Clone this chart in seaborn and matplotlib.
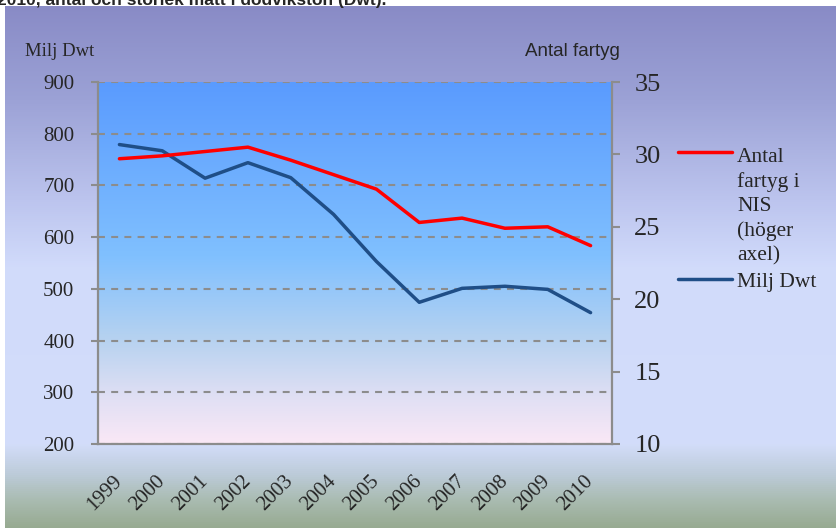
import numpy as np
import pandas as pd
import matplotlib
matplotlib.use("Agg")
import matplotlib.pyplot as plt
import seaborn as sns
from matplotlib import font_manager
from matplotlib.colors import LinearSegmentedColormap
from matplotlib.legend_handler import HandlerLine2D

# ---------------- data ----------------
years = ["1999", "2000", "2001", "2002", "2003", "2004",
         "2005", "2006", "2007", "2008", "2009", "2010"]
milj_dwt = [779, 767, 714, 744, 715, 644, 553, 474, 501, 505, 499, 454]
antal_fartyg = [29.7, 29.9, 30.2, 30.5, 29.6, 28.6, 27.6, 25.3, 25.6, 24.9, 25.0, 23.7]
left_ticks = [200, 300, 400, 500, 600, 700, 800, 900]
right_ticks = [10, 15, 20, 25, 30, 35]

label_red = "Antal\nfartyg i\nNIS\n(höger\naxel)"
label_blue = "Milj Dwt"
title_text = "2010, antal och storlek mätt i dödvikston (Dwt)."

df = pd.DataFrame({"pos": np.arange(len(years)), "year": years,
                   "dwt": milj_dwt, "antal": antal_fartyg})


def has_font(name):
    try:
        font_manager.findfont(font_manager.FontProperties(family=name),
                              fallback_to_default=False)
        return True
    except Exception:
        return False


narrow_ok = has_font("Liberation Sans Narrow")
narrow_family = ["Liberation Sans Narrow", "DejaVu Sans"] if narrow_ok else ["Liberation Sans", "DejaVu Sans"]

sns.set_style("white")
plt.rcParams["font.family"] = ["Liberation Serif", "DejaVu Sans"]
plt.rcParams["lines.scale_dashes"] = False

W, H = 836, 528
fig = plt.figure(figsize=(W / 100, H / 100), dpi=100)
fig.patch.set_facecolor("white")

# figure background gradient
bg = fig.add_axes([5 / W, 0, 1 - 5 / W, 1 - 6 / H], zorder=-5)
bg.axis("off")
bg_cmap = LinearSegmentedColormap.from_list("bg", [
    (0.00, "#898bc6"), (0.18, "#9ca2d6"), (0.37, "#bcc4ee"), (0.50, "#d1dbfb"),
    (0.84, "#d3ddfa"), (0.90, "#bccbd8"), (0.95, "#a9bbb0"), (1.00, "#97aa91")])
bg.imshow(np.linspace(0, 1, 512).reshape(-1, 1), aspect="auto", cmap=bg_cmap,
          extent=[0, 1, 0, 1])
bg.set_xlim(0, 1)
bg.set_ylim(0, 1)

# main axes
ax = fig.add_axes([98 / W, 1 - 444 / H, (612 - 98) / W, (444 - 82) / H])
ax.patch.set_alpha(0)
plot_cmap = LinearSegmentedColormap.from_list("pl", [
    (0.00, "#5a9bfe"), (0.48, "#80c0ff"), (0.71, "#b6d2f0"), (0.88, "#e2e0f4"),
    (1.00, "#fae8f6")])
ax.imshow(np.linspace(0, 1, 512).reshape(-1, 1), aspect="auto", cmap=plot_cmap,
          extent=[-0.5, len(years) - 0.5, 200, 900], zorder=0)

grey = "#8c8c8c"
sns.lineplot(data=df, x="pos", y="dwt", ax=ax, color="#1f4e87", lw=2.5,
             legend=False, zorder=3)
ax.set_xlim(-0.5, len(years) - 0.5)
ax.set_ylim(200, 900)
ax.set_yticks(left_ticks)
ax.set_yticklabels([str(v) for v in left_ticks])
ax.set_xticks(np.arange(-0.5, len(years), 1.0))
ax.set_xticklabels([])
ax.set_xticks(np.arange(len(years)), minor=True)
ax.set_xticklabels(years, minor=True, rotation=45, ha="right", va="center",
                   rotation_mode="anchor", fontsize=15)
ax.tick_params(axis="x", which="major", length=4, width=1.5, color=grey, direction="out")
ax.tick_params(axis="x", which="minor", length=0, pad=25)
ax.tick_params(axis="y", which="major", length=5, width=1.5, color=grey,
               direction="out", labelsize=15, pad=12, left=True)
ax.yaxis.grid(True, color=grey, lw=1.5, ls=(0, (5, 4.5)), zorder=1)
ax.xaxis.grid(False)
ax.set_axisbelow(False)
for s in ["top", "right"]:
    ax.spines[s].set_visible(False)
for s in ["left", "bottom"]:
    ax.spines[s].set_color(grey)
    ax.spines[s].set_linewidth(1.6)
ax.set_xlabel("")
ax.set_ylabel("")

ax2 = ax.twinx()
sns.lineplot(data=df, x="pos", y="antal", ax=ax2, color="#ff0000", lw=2.5,
             legend=False, zorder=3)
ax2.set_ylim(10, 35)
ax2.set_yticks(right_ticks)
ax2.set_yticklabels([str(v) for v in right_ticks])
ax2.tick_params(axis="y", length=6, width=1.5, color=grey, direction="out",
                labelsize=19, pad=10, right=True)
for s in ["top", "left", "bottom"]:
    ax2.spines[s].set_visible(False)
ax2.spines["right"].set_color(grey)
ax2.spines["right"].set_linewidth(1.6)
ax2.set_ylabel("")
ax2.set_xlabel("")
ax2.grid(False)


class UpHandler(HandlerLine2D):
    def __init__(self, shift, **kw):
        super().__init__(**kw)
        self.shift = shift

    def create_artists(self, legend, orig_handle, xdescent, ydescent, width,
                       height, fontsize, trans):
        return super().create_artists(legend, orig_handle, xdescent,
                                      ydescent - self.shift, width, height,
                                      fontsize, trans)


leg_size = 15.5
line_sp = 1.35
red_line = ax2.lines[0]
blue_line = ax.lines[0]
leg = fig.legend([red_line, blue_line], [label_red, label_blue],
                 loc="upper left", bbox_to_anchor=(678 / W, 1 - 148 / H),
                 frameon=False, borderpad=0, borderaxespad=0,
                 handlelength=2.5, handletextpad=0.25,
                 labelspacing=0.3, prop={"family": "Liberation Serif", "size": leg_size},
                 handler_map={red_line: UpHandler(4 * leg_size * line_sp * 0.93)})
for t in leg.get_texts():
    t.set_linespacing(line_sp)

fig.text(25 / W, 1 - 52 / H, "Milj Dwt", family="Liberation Serif", size=13.5,
         va="center", ha="left")
fig.text(525 / W, 1 - 52 / H, "Antal fartyg",
         family=narrow_family, size=15 if narrow_ok else 13.5,
         va="center", ha="left")
fig.text(-0.003, 1 - 5 / H, title_text, family=narrow_family,
         weight="bold", size=15 if narrow_ok else 12.5, va="baseline", ha="left")

fig.savefig("out.png", dpi=100)
